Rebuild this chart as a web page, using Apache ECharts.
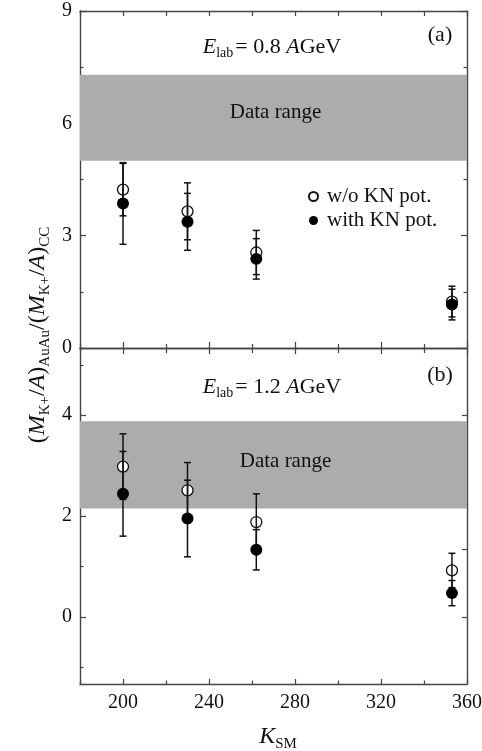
<!DOCTYPE html>
<html style="height: 100%">
<head>
<meta charset="utf-8">
</head>
<body style="height: 100%; margin: 0; background: #fff">
<div id="container" style="width: 482px; height: 751px"></div>
<script src="https://cdn.jsdelivr.net/npm/echarts@6/dist/echarts.min.js"></script>
<script>
// K_SM values of the four calculations
var kValues = [200, 230, 262, 353];

// panel (a), E_lab = 0.8 AGeV
var woA = [4.23, 3.65, 2.55, 1.24];
var woAErr = [0.70, 0.76, 0.59, 0.41];
var withA = [3.86, 3.37, 2.38, 1.16];
var withAErr = [1.09, 0.76, 0.54, 0.41];
var bandA = [5.0, 7.3];

// panel (b), E_lab = 1.2 AGeV
var woB = [2.98, 2.51, 1.88, 0.92];
var woBErr = [0.65, 0.55, 0.56, 0.34];
var withB = [2.44, 1.95, 1.33, 0.47];
var withBErr = [0.84, 0.76, 0.40, 0.25];
var bandB = [2.15, 3.88];

// ticks
var xMajor = [200, 240, 280, 320, 360];
var xMinor = [180, 220, 260, 300, 340];
var yMajorB = [0, 2, 4];
var yMinorB = [-1, 1, 3, 5];
var yRightB = [0, 4 / 3, 8 / 3, 4];

var serif = "'Liberation Serif', 'DejaVu Serif', serif";
var ink = '#111';
var frame = '#444';

var dom = document.getElementById('container');
var myChart = echarts.init(dom);

function xAx(grid, pos, ticks, len, line, labels) {
	return {
		type: 'value', gridIndex: grid, position: pos, min: 180, max: 360,
		axisLine: { show: line, onZero: false, lineStyle: { color: frame, width: 1.4 } },
		axisTick: { show: true, inside: true, length: len, customValues: ticks, lineStyle: { color: frame, width: 1.2 } },
		axisLabel: { show: labels, customValues: ticks, margin: 9, fontSize: 20, fontFamily: serif, color: ink },
		splitLine: { show: false }
	};
}

function yAxB(pos, ticks, len, line, labels) {
	return {
		type: 'value', gridIndex: 1, position: pos, min: -1.333, max: 5.333,
		axisLine: { show: line, onZero: false, lineStyle: { color: frame, width: 1.4 } },
		axisTick: { show: true, inside: true, length: len, customValues: ticks, lineStyle: { color: frame, width: 1.2 } },
		axisLabel: { show: labels, customValues: ticks, margin: 8, fontSize: 20, fontFamily: serif, color: ink },
		splitLine: { show: false }
	};
}

function yAxA(pos, labels) {
	return {
		type: 'value', gridIndex: 0, position: pos, min: 0, max: 9, interval: 3,
		axisLine: { show: true, onZero: false, lineStyle: { color: frame, width: 1.4 } },
		axisTick: { show: true, inside: true, length: 6, lineStyle: { color: frame, width: 1.2 } },
		minorTick: { show: true, splitNumber: 2, length: 3.5, lineStyle: { color: frame, width: 1.2 } },
		axisLabel: { show: labels, margin: 8, fontSize: 20, fontFamily: serif, color: ink },
		splitLine: { show: false }
	};
}

function errData(vals, errs) {
	return kValues.map(function (k, i) {
		return [k, vals[i] - errs[i], vals[i] + errs[i]];
	});
}

function points(vals) {
	return kValues.map(function (k, i) { return [k, vals[i]]; });
}

function renderErr(params, api) {
	var x = api.value(0);
	var lo = api.coord([x, api.value(1)]);
	var hi = api.coord([x, api.value(2)]);
	var w = 3.5;
	var st = { stroke: ink, lineWidth: 1.5 };
	return {
		type: 'group',
		children: [
			{ type: 'line', shape: { x1: lo[0], y1: lo[1], x2: hi[0], y2: hi[1] }, style: st },
			{ type: 'line', shape: { x1: lo[0] - w, y1: lo[1], x2: lo[0] + w, y2: lo[1] }, style: st },
			{ type: 'line', shape: { x1: hi[0] - w, y1: hi[1], x2: hi[0] + w, y2: hi[1] }, style: st }
		]
	};
}

function panelSeries(xi, yi, wo, woErr, wi, wiErr, band, labelOffset) {
	return [
		{
			type: 'scatter', xAxisIndex: xi, yAxisIndex: yi, data: [], z: 1, silent: true,
			markArea: {
				silent: true,
				itemStyle: { color: '#acacac', opacity: 1, borderWidth: 0 },
				label: { show: true, position: 'inside', offset: labelOffset, formatter: 'Data range', fontFamily: serif, fontSize: 21, color: ink },
				data: [[{ yAxis: band[0] }, { yAxis: band[1] }]]
			}
		},
		{
			name: 'w/o KN pot.', type: 'scatter', xAxisIndex: xi, yAxisIndex: yi, z: 2,
			symbol: 'circle', symbolSize: 11,
			itemStyle: { color: '#fff', borderColor: ink, borderWidth: 1.3, opacity: 1 },
			data: points(wo)
		},
		{
			type: 'custom', xAxisIndex: xi, yAxisIndex: yi, z: 3, renderItem: renderErr,
			encode: { x: 0, y: [1, 2] }, data: errData(wo, woErr)
		},
		{
			type: 'custom', xAxisIndex: xi, yAxisIndex: yi, z: 3, renderItem: renderErr,
			encode: { x: 0, y: [1, 2] }, data: errData(wi, wiErr)
		},
		{
			name: 'with KN pot.', type: 'scatter', xAxisIndex: xi, yAxisIndex: yi, z: 4,
			symbol: 'circle', symbolSize: 12,
			itemStyle: { color: '#000', opacity: 1 },
			data: points(wi)
		}
	];
}

var subRich = {
	i: { fontFamily: serif, fontSize: 22, fontStyle: 'italic', fill: ink, lineHeight: 26 },
	n: { fontFamily: serif, fontSize: 22, fill: ink, lineHeight: 26 },
	s: { fontFamily: serif, fontSize: 14, fill: ink, padding: [12, 2, 0, 0] }
};

var titleRich = {
	i: { fontFamily: serif, fontSize: 24, fontStyle: 'italic', fill: ink, lineHeight: 29 },
	n: { fontFamily: serif, fontSize: 24, fill: ink, lineHeight: 29 },
	s: { fontFamily: serif, fontSize: 15, fill: ink, padding: [14, 0, 0, 0] }
};

var option = {
	animation: false,
	backgroundColor: '#fff',
	grid: [
		{ left: 80, top: 11, width: 387, height: 337, outerBoundsMode: 'none', containLabel: false },
		{ left: 80, top: 348, width: 387, height: 336, outerBoundsMode: 'none', containLabel: false }
	],
	xAxis: [
		xAx(0, 'bottom', xMajor, 6, true, false),
		xAx(0, 'bottom', xMinor, 4, false, false),
		xAx(0, 'top', xMajor, 5, true, false),
		xAx(0, 'top', xMinor, 5, false, false),
		xAx(1, 'bottom', xMajor, 5, true, true),
		xAx(1, 'bottom', xMinor, 3.5, false, false),
		xAx(1, 'top', xMajor, 6, true, false),
		xAx(1, 'top', xMinor, 5, false, false)
	],
	yAxis: [
		yAxA('left', true),
		yAxA('right', false),
		yAxB('left', yMajorB, 6, true, true),
		yAxB('left', yMinorB, 3.5, false, false),
		yAxB('right', yRightB, 5, true, false)
	],
	legend: {
		data: ['w/o KN pot.', 'with KN pot.'],
		orient: 'vertical', left: 303, top: 181,
		itemWidth: 9, itemHeight: 9, itemGap: 3,
		selectedMode: false,
		textStyle: { fontFamily: serif, fontSize: 21, color: ink, lineHeight: 20, padding: [0, 0, 0, 4] }
	},
	graphic: [
		{ type: 'text', x: 272, y: 47, style: { text: '{i|E}{s|lab}{n|= 0.8 }{i|A}{n|GeV}', rich: subRich, align: 'center', verticalAlign: 'middle' } },
		{ type: 'text', x: 272, y: 387, style: { text: '{i|E}{s|lab}{n|= 1.2 }{i|A}{n|GeV}', rich: subRich, align: 'center', verticalAlign: 'middle' } },
		{ type: 'text', x: 440, y: 35, style: { text: '(a)', font: '22px ' + serif, fill: ink, align: 'center', verticalAlign: 'middle' } },
		{ type: 'text', x: 440, y: 375, style: { text: '(b)', font: '22px ' + serif, fill: ink, align: 'center', verticalAlign: 'middle' } },
		{ type: 'text', x: 278, y: 737, style: { text: '{i|K}{s|SM}', rich: titleRich, align: 'center', verticalAlign: 'middle' } },
		{
			type: 'text', x: 38, y: 335, rotation: Math.PI / 2,
			style: { text: '{n|(}{i|M}{s|K+}{n|/}{i|A}{n|)}{s|AuAu}{n|/(}{i|M}{s|K+}{n|/}{i|A}{n|)}{s|CC}', rich: titleRich, align: 'center', verticalAlign: 'middle' }
		}
	],
	series: panelSeries(0, 0, woA, woAErr, withA, withAErr, bandA, [2, -5])
		.concat(panelSeries(4, 2, woB, woBErr, withB, withBErr, bandB, [12, -3]))
};

myChart.setOption(option);
</script>
</body>
</html>
